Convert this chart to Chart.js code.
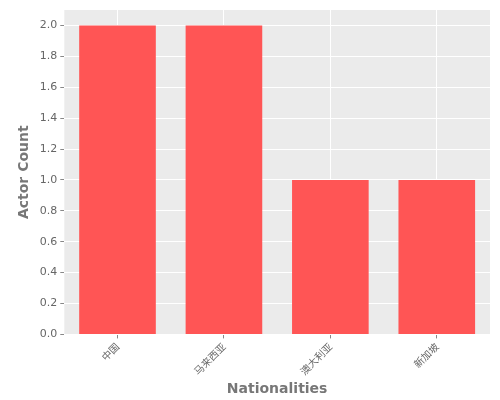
<!DOCTYPE html>
<html>
<head>
<meta charset="utf-8">
<script src="https://cdn.jsdelivr.net/npm/chart.js@4"></script>
<style>
  html, body { margin: 0; padding: 0; background: #fff; }
  #wrap { width: 500px; height: 400px; }
</style>
</head>
<body>
<div id="wrap"><canvas id="chart"></canvas></div>
<script>
var nationalities = ['中国', '马来西亚', '澳大利亚', '新加坡'];
var actorCounts = [2, 2, 1, 1];

// grey panel behind the plot area, ggplot style
var panelBg = {
    id: 'panelBg',
    beforeDraw: function (chart) {
        var a = chart.chartArea, ctx = chart.ctx;
        ctx.save();
        ctx.fillStyle = '#EBEBEB';
        ctx.fillRect(a.left, a.top, a.right - a.left, a.bottom - a.top);
        ctx.restore();
    }
};

new Chart(document.getElementById('chart'), {
    type: 'bar',
    data: {
        labels: nationalities,
        datasets: [{
            data: actorCounts,
            backgroundColor: '#FF5555',
            borderWidth: 0,
            barPercentage: 0.72,
            categoryPercentage: 1
        }]
    },
    options: {
        responsive: true,
        maintainAspectRatio: false,
        animation: false,
        layout: { padding: { top: 10, right: 10, left: 12, bottom: 2 } },
        plugins: { legend: { display: false }, tooltip: { enabled: false } },
        scales: {
            x: {
                grid: { color: '#FFFFFF', offset: false, tickColor: '#888', tickLength: 4 },
                border: { display: false },
                ticks: { color: '#666', maxRotation: 45, minRotation: 45, padding: 2, font: { family: 'Noto Sans CJK SC', size: 10 } },
                title: { display: true, text: 'Nationalities', color: '#777', padding: { top: 2, bottom: 0 }, font: { family: 'DejaVu Sans', size: 14, weight: 'bold' } }
            },
            y: {
                min: 0, max: 2.1,
                afterBuildTicks: function (axis) {
                    axis.ticks = axis.ticks.filter(function (t) { return t.value < 2.01; });
                },
                grid: { color: '#FFFFFF', tickColor: '#888', tickLength: 4 },
                border: { display: false },
                ticks: {
                    stepSize: 0.2, color: '#666',
                    font: { family: 'DejaVu Sans', size: 11 },
                    callback: function (v) { return v.toFixed(1); }
                },
                title: { display: true, text: 'Actor Count', color: '#777', font: { family: 'DejaVu Sans', size: 14, weight: 'bold' } }
            }
        }
    },
    plugins: [panelBg]
});
</script>
</body>
</html>
